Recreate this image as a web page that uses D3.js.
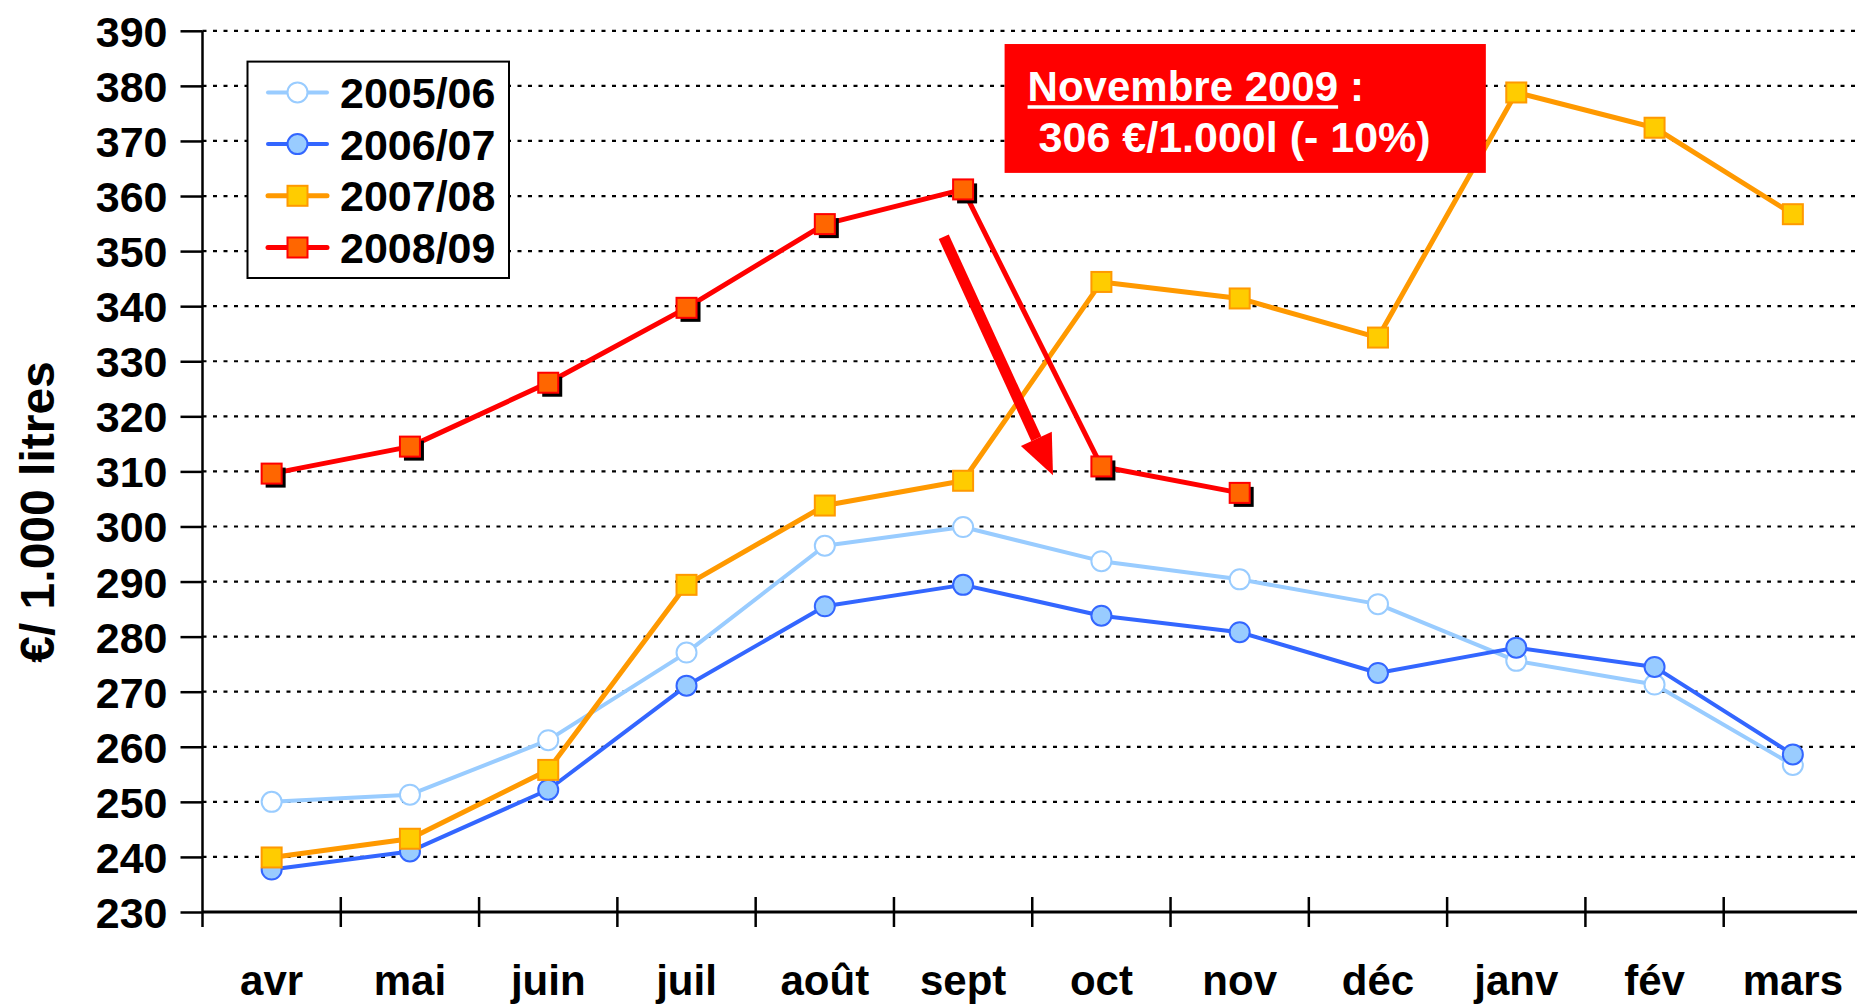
<!DOCTYPE html>
<html>
<head>
<meta charset="utf-8">
<script src="https://cdn.jsdelivr.net/npm/d3@7"></script>
<style>
  body { margin: 0; background: #fff; }
  svg { display: block; font-family: "Liberation Sans", Arial, sans-serif; font-weight: bold; }
</style>
</head>
<body>
<svg id="chart" width="1857" height="1004"></svg>
<script>
// months of the milk year
var months = ["avr", "mai", "juin", "juil", "août", "sept", "oct", "nov", "déc", "janv", "fév", "mars"];

// prices in €/1.000 litres
var s0506 = [250.0, 251.3, 261.2, 277.1, 296.5, 299.9, 293.7, 290.4, 285.9, 275.6, 271.3, 256.7];
var s0607 = [237.7, 241.0, 252.2, 271.1, 285.5, 289.4, 283.8, 280.8, 273.4, 278.0, 274.5, 258.6];
var s0708 = [239.9, 243.3, 255.8, 289.4, 303.8, 308.3, 344.4, 341.4, 334.3, 378.8, 372.4, 356.7];
var s0809 = [309.6, 314.5, 326.1, 339.7, 354.9, 361.2, 310.9, 306.1];

var seriesNames = ["2005/06", "2006/07", "2007/08", "2008/09"];
var yTicks = d3.range(230, 391, 10);

var series = [
    { name: seriesNames[0], values: s0506, line: "#99CCFF", fill: "#FFFFFF", stroke: "#99CCFF", shape: "circle", lw: 4 },
    { name: seriesNames[1], values: s0607, line: "#3366FF", fill: "#99CCFF", stroke: "#3366FF", shape: "circle", lw: 4 },
    { name: seriesNames[2], values: s0708, line: "#FF9900", fill: "#FFCC00", stroke: "#FF9900", shape: "square", lw: 5 },
    { name: seriesNames[3], values: s0809, line: "#FF0000", fill: "#FF6600", stroke: "#FF0000", shape: "square", lw: 5, shadow: true }
];

var svg = d3.select("#chart");

var plotLeft = 202.5, plotRight = 1862, plotTop = 30.8, plotBottom = 912;

var x = d3.scaleBand().domain(months).range([plotLeft, plotRight]);
var xb = d3.scaleLinear().domain([0, months.length]).range([plotLeft, plotRight]);   // band edges
var y = d3.scaleLinear().domain([230, 390]).range([plotBottom, plotTop]);

function cx(i) { return x(months[i]) + x.bandwidth() / 2; }

// dotted grid
svg.append("g").selectAll("line")
    .data(yTicks.filter(function (d) { return d > 230; }))
    .enter().append("line")
    .attr("x1", plotLeft).attr("x2", 1857)
    .attr("y1", function (d) { return y(d); })
    .attr("y2", function (d) { return y(d); })
    .attr("stroke", "#000")
    .attr("stroke-width", 2.2)
    .attr("stroke-dasharray", "4,6.5");

// y axis
var yAxis = svg.append("g")
    .attr("transform", "translate(" + plotLeft + ",0)")
    .call(d3.axisLeft(y).tickValues(yTicks).tickSize(22).tickPadding(13));
yAxis.select(".domain").remove();
yAxis.selectAll(".tick line").attr("stroke", "#000").attr("stroke-width", 2.5);
yAxis.selectAll("text").attr("fill", "#000").style("font-size", "43px").attr("dy", "0.36em");
svg.append("line")
    .attr("x1", plotLeft).attr("x2", plotLeft)
    .attr("y1", plotTop).attr("y2", plotBottom + 15)
    .attr("stroke", "#000").attr("stroke-width", 2.5);

// x axis line + boundary ticks
svg.append("line")
    .attr("x1", plotLeft).attr("x2", 1857)
    .attr("y1", plotBottom).attr("y2", plotBottom)
    .attr("stroke", "#000").attr("stroke-width", 3);
svg.append("g").selectAll("line")
    .data(d3.range(1, months.length + 1))
    .enter().append("line")
    .attr("x1", function (d) { return xb(d); })
    .attr("x2", function (d) { return xb(d); })
    .attr("y1", plotBottom - 15).attr("y2", plotBottom + 15)
    .attr("stroke", "#000").attr("stroke-width", 2.5);

var xAxis = svg.append("g")
    .attr("transform", "translate(0," + plotBottom + ")")
    .call(d3.axisBottom(x).tickSize(0).tickPadding(68));
xAxis.select(".domain").remove();
xAxis.selectAll("text").attr("fill", "#000").style("font-size", "42px").attr("dy", "0.36em");

// y title
svg.append("text")
    .attr("transform", "translate(54,512) rotate(-90)")
    .attr("text-anchor", "middle")
    .style("font-size", "48px")
    .text("€/ 1.000 litres");

// series
var line = d3.line()
    .x(function (d, i) { return cx(i); })
    .y(function (d) { return y(d); });

function drawMarker(g, s, px, py) {
    if (s.shape === "circle") {
        g.append("circle").attr("cx", px).attr("cy", py).attr("r", 10)
            .attr("fill", s.fill).attr("stroke", s.stroke).attr("stroke-width", 2);
    } else {
        if (s.shadow) {
            g.append("rect").attr("x", px - 6).attr("y", py - 6).attr("width", 20).attr("height", 20)
                .attr("fill", "#000");
        }
        g.append("rect").attr("x", px - 10).attr("y", py - 10).attr("width", 20).attr("height", 20)
            .attr("fill", s.fill).attr("stroke", s.stroke).attr("stroke-width", 2);
    }
}

series.forEach(function (s) {
    var g = svg.append("g");
    g.append("path")
        .datum(s.values)
        .attr("d", line)
        .attr("fill", "none")
        .attr("stroke", s.line)
        .attr("stroke-width", s.lw)
        .attr("stroke-linejoin", "round");
    s.values.forEach(function (v, i) { drawMarker(g, s, cx(i), y(v)); });
});

// legend
var legend = svg.append("g");
legend.append("rect")
    .attr("x", 247.5).attr("y", 61.6).attr("width", 261.5).attr("height", 216.4)
    .attr("fill", "#fff").attr("stroke", "#000").attr("stroke-width", 2);
series.forEach(function (s, i) {
    var ly = 92.4 + i * 51.7;
    legend.append("line")
        .attr("x1", 268).attr("x2", 327).attr("y1", ly).attr("y2", ly)
        .attr("stroke", s.line).attr("stroke-width", s.lw).attr("stroke-linecap", "round");
    drawMarker(legend, { shape: s.shape, fill: s.fill, stroke: s.stroke }, 297.5, ly);
    legend.append("text")
        .attr("x", 340).attr("y", ly).attr("dy", "0.36em")
        .style("font-size", "43px")
        .text(s.name);
});

// arrow annotation (positions in category index / value space)
var arrowFrom = [4.86, 352.6], arrowTo = [5.65, 309.3];
var ax = d3.scaleLinear().domain([0, 1]).range([cx(0), cx(1)]);
var x1 = ax(arrowFrom[0]), y1 = y(arrowFrom[1]), x2 = ax(arrowTo[0]), y2 = y(arrowTo[1]);
var ang = Math.atan2(y2 - y1, x2 - x1);
var headLen = 40, headW = 17;
var bx = x2 - headLen * Math.cos(ang), by = y2 - headLen * Math.sin(ang);
svg.append("line")
    .attr("x1", x1).attr("y1", y1).attr("x2", bx).attr("y2", by)
    .attr("stroke", "#FF0000").attr("stroke-width", 11);
svg.append("path")
    .attr("d", "M" + x2 + "," + y2 +
        "L" + (bx + headW * Math.sin(ang)) + "," + (by - headW * Math.cos(ang)) +
        "L" + (bx - headW * Math.sin(ang)) + "," + (by + headW * Math.cos(ang)) + "Z")
    .attr("fill", "#FF0000");

// red callout
var boxX0 = ax(5.30), boxX1 = ax(8.78), boxY0 = y(387.6), boxY1 = y(364.2);
svg.append("rect")
    .attr("x", boxX0).attr("y", boxY0)
    .attr("width", boxX1 - boxX0).attr("height", boxY1 - boxY0)
    .attr("fill", "#FF0000");
var t1 = svg.append("text")
    .attr("x", boxX0 + 23).attr("y", boxY0 + 57)
    .attr("fill", "#fff").style("font-size", "42px")
    .text("Novembre 2009");
var len = t1.node().getComputedTextLength();
svg.append("line")
    .attr("x1", boxX0 + 23).attr("x2", boxX0 + 23 + len)
    .attr("y1", boxY0 + 63).attr("y2", boxY0 + 63)
    .attr("stroke", "#fff").attr("stroke-width", 3.5);
svg.append("text")
    .attr("x", boxX0 + 23 + len + 12).attr("y", boxY0 + 57)
    .attr("fill", "#fff").style("font-size", "42px")
    .text(":");
svg.append("text")
    .attr("x", boxX0 + 34).attr("y", boxY0 + 108)
    .attr("fill", "#fff").style("font-size", "43px")
    .text("306 €/1.000l (- 10%)");
</script>
</body>
</html>
